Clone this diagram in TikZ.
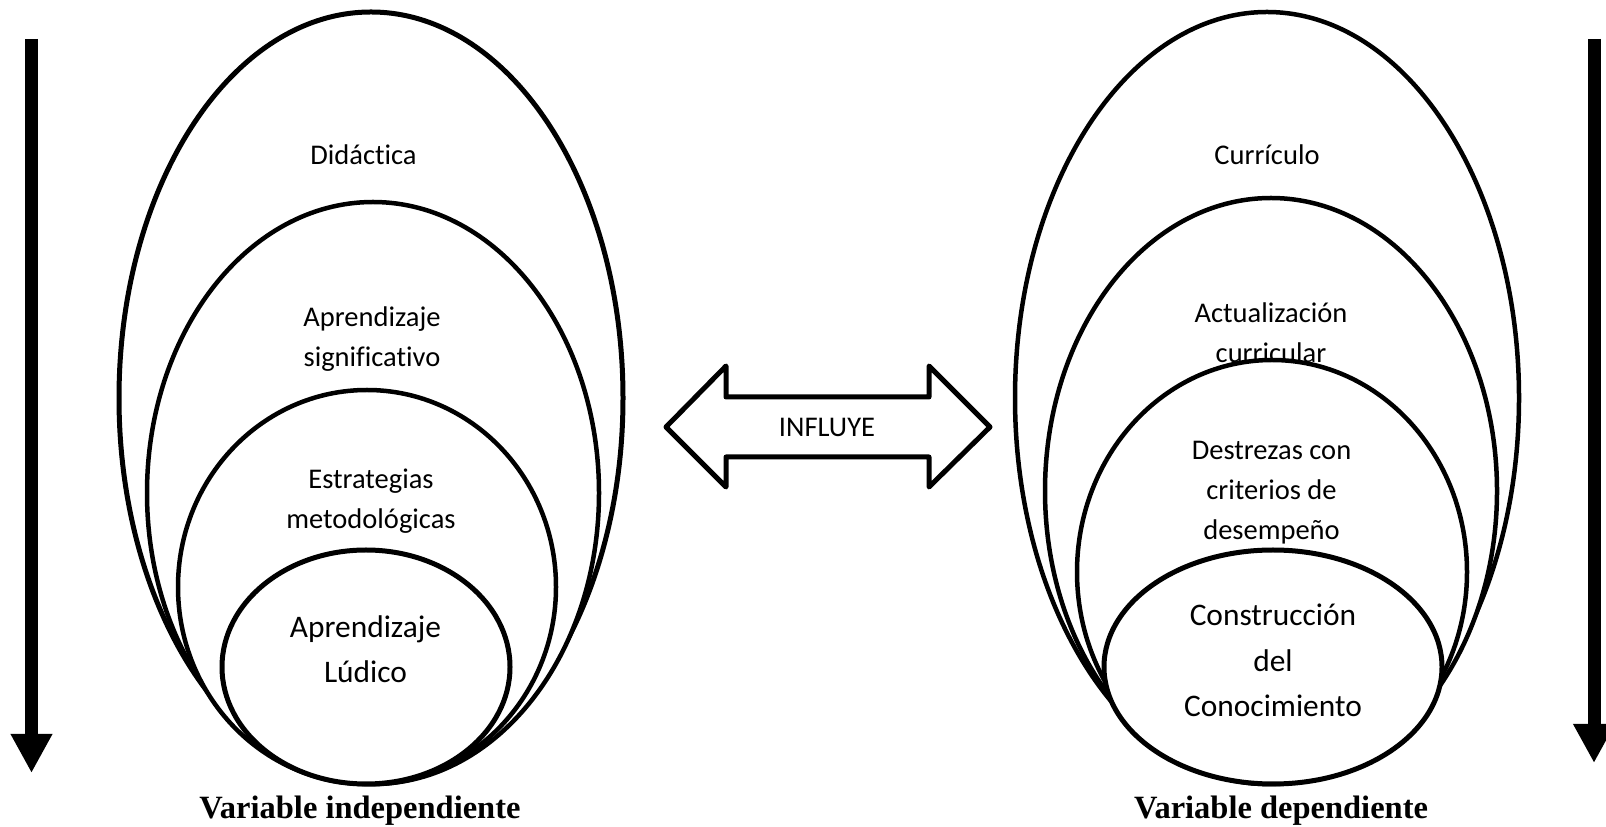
\documentclass[tikz,border=0pt]{standalone}
\usepackage{fontspec}
\setmainfont{Carlito}[Ligatures=NoCommon]
\newfontfamily\varfont{Liberation Serif}
\usetikzlibrary{arrows.meta, shapes.geometric}

\begin{document}
\begin{tikzpicture}[
  x=1pt, y=1pt,
  oval/.style={
    draw,
    ellipse,
    fill=white,
    line width=4.5pt,
    inner sep=0pt
  },
  lbl/.style={align=center, anchor=base, font=\fontsize{28.5}{40}\selectfont},
  biglbl/.style={align=center, anchor=base, font=\fontsize{31.4}{45.5}\selectfont},
  varlbl/.style={anchor=base, font=\varfont\bfseries\fontsize{32.5}{36}\selectfont},
  downarr/.style={line width=13pt, -{Triangle[width=39pt, length=39pt]}},
  influ/.style={draw, line width=5pt, line join=round, fill=white}
]
\useasboundingbox (0,0) rectangle (1606,827);

% left group
\node[oval, line width=5pt, minimum width=504pt, minimum height=772pt] (didac) at (371,429) {};
\node[lbl] (tdidac) at (363.5,662) {Didáctica};
\node[oval, minimum width=452pt, minimum height=582pt] (aprsig) at (373,334) {};
\node[lbl] (taprsig) at (372,460) {Aprendizaje\\significativo};
\node[oval, minimum width=378pt, minimum height=394pt] (estrat) at (367,240) {};
\node[lbl] (testrat) at (371,298) {Estrategias\\metodológicas};
\node[oval, line width=5pt, minimum width=288pt, minimum height=234pt] (ludico) at (366,160) {};
\node[biglbl] (tludico) at (365.5,144) {Aprendizaje\\Lúdico};

% right group
\node[oval, minimum width=504pt, minimum height=772pt] (curric) at (1267,429) {};
\node[lbl] (tcurric) at (1267,662) {Currículo};
\node[oval, minimum width=452pt, minimum height=586pt] (actual) at (1271,336) {};
\node[lbl] (tactual) at (1271,464) {Actualización\\curricular};
\node[oval, minimum width=390pt, minimum height=424pt] (destr) at (1272,255) {};
\node[lbl] (tdestr) at (1271.5,287) {Destrezas con\\criterios de\\desempeño};
\node[oval, line width=5pt, minimum width=338pt, minimum height=234pt] (constr) at (1273,160) {};
\node[biglbl] (tconstr) at (1273,110) {Construcción\\del\\Conocimiento};

% double arrow
\draw[influ] (666,400) -- (726,461) -- (726,430) -- (929,430) -- (929,461) -- (990,400)
  -- (929,340) -- (929,370) -- (726,370) -- (726,340) -- cycle;
\node[lbl] (tinflu) at (827,390) {INFLUYE};

% side arrows
\coordinate (topL) at (31.5,788);
\coordinate (tipL) at (31.5,54);
\draw[downarr] (topL) -- (tipL);
\coordinate (topR) at (1594,788);
\coordinate (tipR) at (1594,64);
\draw[downarr] (topR) -- (tipR);

\node[varlbl] (tindep) at (360,8) {Variable independiente};
\node[varlbl] (tdep) at (1281,8) {Variable dependiente};

\end{tikzpicture}
\end{document}
